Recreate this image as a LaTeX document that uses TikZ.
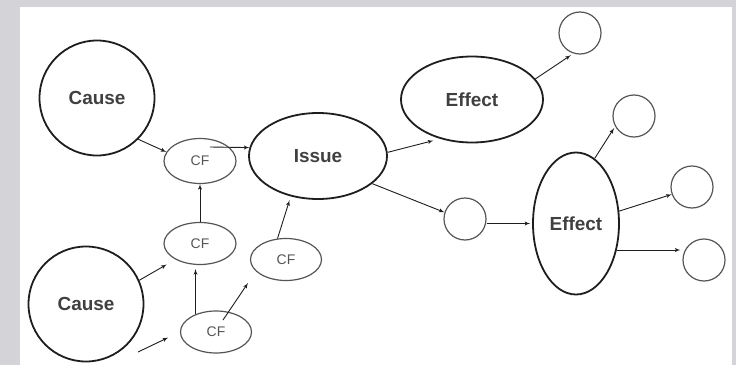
\documentclass[tikz,border=0pt]{standalone}
\usepackage{fontspec}
\setsansfont{Liberation Sans}
\usetikzlibrary{arrows, shapes.geometric}

\definecolor{bggray}{RGB}{211,211,216}
\definecolor{ink}{RGB}{30,30,30}
\definecolor{soft}{RGB}{85,85,85}

\begin{document}
\begin{tikzpicture}[auto, x=10bp, y=10bp, >=latex']
    \tikzstyle{big}=[font=\sffamily\bfseries\fontsize{19}{19}\selectfont, text=ink!85, draw=ink, line width=1.8bp, inner sep=0pt]
    \tikzstyle{cf}=[font=\sffamily\fontsize{14}{14}\selectfont, text=soft, draw=soft, line width=1.2bp, ellipse, inner sep=0pt]
    \tikzstyle{leaf}=[draw=soft, line width=1.2bp, circle, minimum size=42bp, inner sep=0pt]
    \tikzstyle{link}=[->, draw=ink, line width=0.9bp]
  \useasboundingbox (0,0) rectangle (73.6,-36.5);

  %% frame
  \fill[bggray] (0,0) rectangle (73.6,-36.5);
  \fill[white] (2.0,-0.7) rectangle (73.2,-36.5);

  %% causes, issue, effects
  \node (cause1) at (9.7,-9.8)   [big,circle,minimum size=115bp] {Cause};
  \node (cause2) at (8.6,-30.4)  [big,circle,minimum size=115bp] {Cause};
  \node (issue)  at (31.8,-15.6) [big,ellipse,minimum width=138bp,minimum height=86bp] {Issue};
  \node (eff1)   at (47.2,-9.95) [big,ellipse,minimum width=142bp,minimum height=86bp] {Effect};
  \node (eff2)   at (57.6,-22.35)[big,ellipse,minimum width=86bp,minimum height=142bp] {Effect};

  %% contributing factors
  \node (cf1) at (20.0,-16.1)  [cf,minimum width=72bp,minimum height=45bp] {CF};
  \node (cf2) at (20.0,-24.35) [cf,minimum width=72bp,minimum height=42bp] {CF};
  \node (cf3) at (21.6,-33.2)  [cf,minimum width=71bp,minimum height=42bp] {CF};
  \node (cf4) at (28.6,-25.95) [cf,minimum width=71bp,minimum height=42bp] {CF};

  %% empty circles
  \node (l1) at (58.0,-3.3)  [leaf] {};
  \node (l2) at (63.4,-11.6) [leaf] {};
  \node (l3) at (69.2,-18.7) [leaf] {};
  \node (l4) at (70.4,-26.0) [leaf] {};
  \node (l5) at (46.5,-21.9) [leaf] {};

  \coordinate (up3) at (24.8,-28.3); % loose end
  \coordinate (in3) at (13.8,-35.2); % loose start

  \draw[link] (cause1.-45) -- (cf1.165);
  \draw[link] ([shift={(1,1.4)}]cf1.center) -- (issue.173);
  \draw[link] (cf2.north) -- (cf1.south);
  \draw[link,shorten >=10bp] (cause2.24) -- (cf2.213);
  \draw[link,shorten >=4bp] (cf3.139) -- (cf3.139 |- cf2.south);
  \draw[link] ([shift={(0.7,1.2)}]cf3.center) -- (up3);
  \draw[link,shorten >=13bp] (in3) -- (cf3.west);
  \draw[link,shorten >=4bp] (cf4.112) -- (issue.236);

  \draw[link,shorten >=7bp] (issue.3) -- (eff1.231);
  \draw[link] (issue.-27) -- (l5.162);
  \draw[link,shorten >=2bp] (l5.east |- eff2.west) -- (eff2.west);
  \draw[link,shorten >=3bp] (eff1.18) -- (l1.252);
  \draw[link,shorten >=2bp] (eff2.74) -- (l2.209);
  \draw[link] (eff2.16) -- (l3.200);
  \draw[link,shorten >=2bp] (eff2.-33) -- (eff2.-33 -| l4.west);
\end{tikzpicture}
\end{document}
